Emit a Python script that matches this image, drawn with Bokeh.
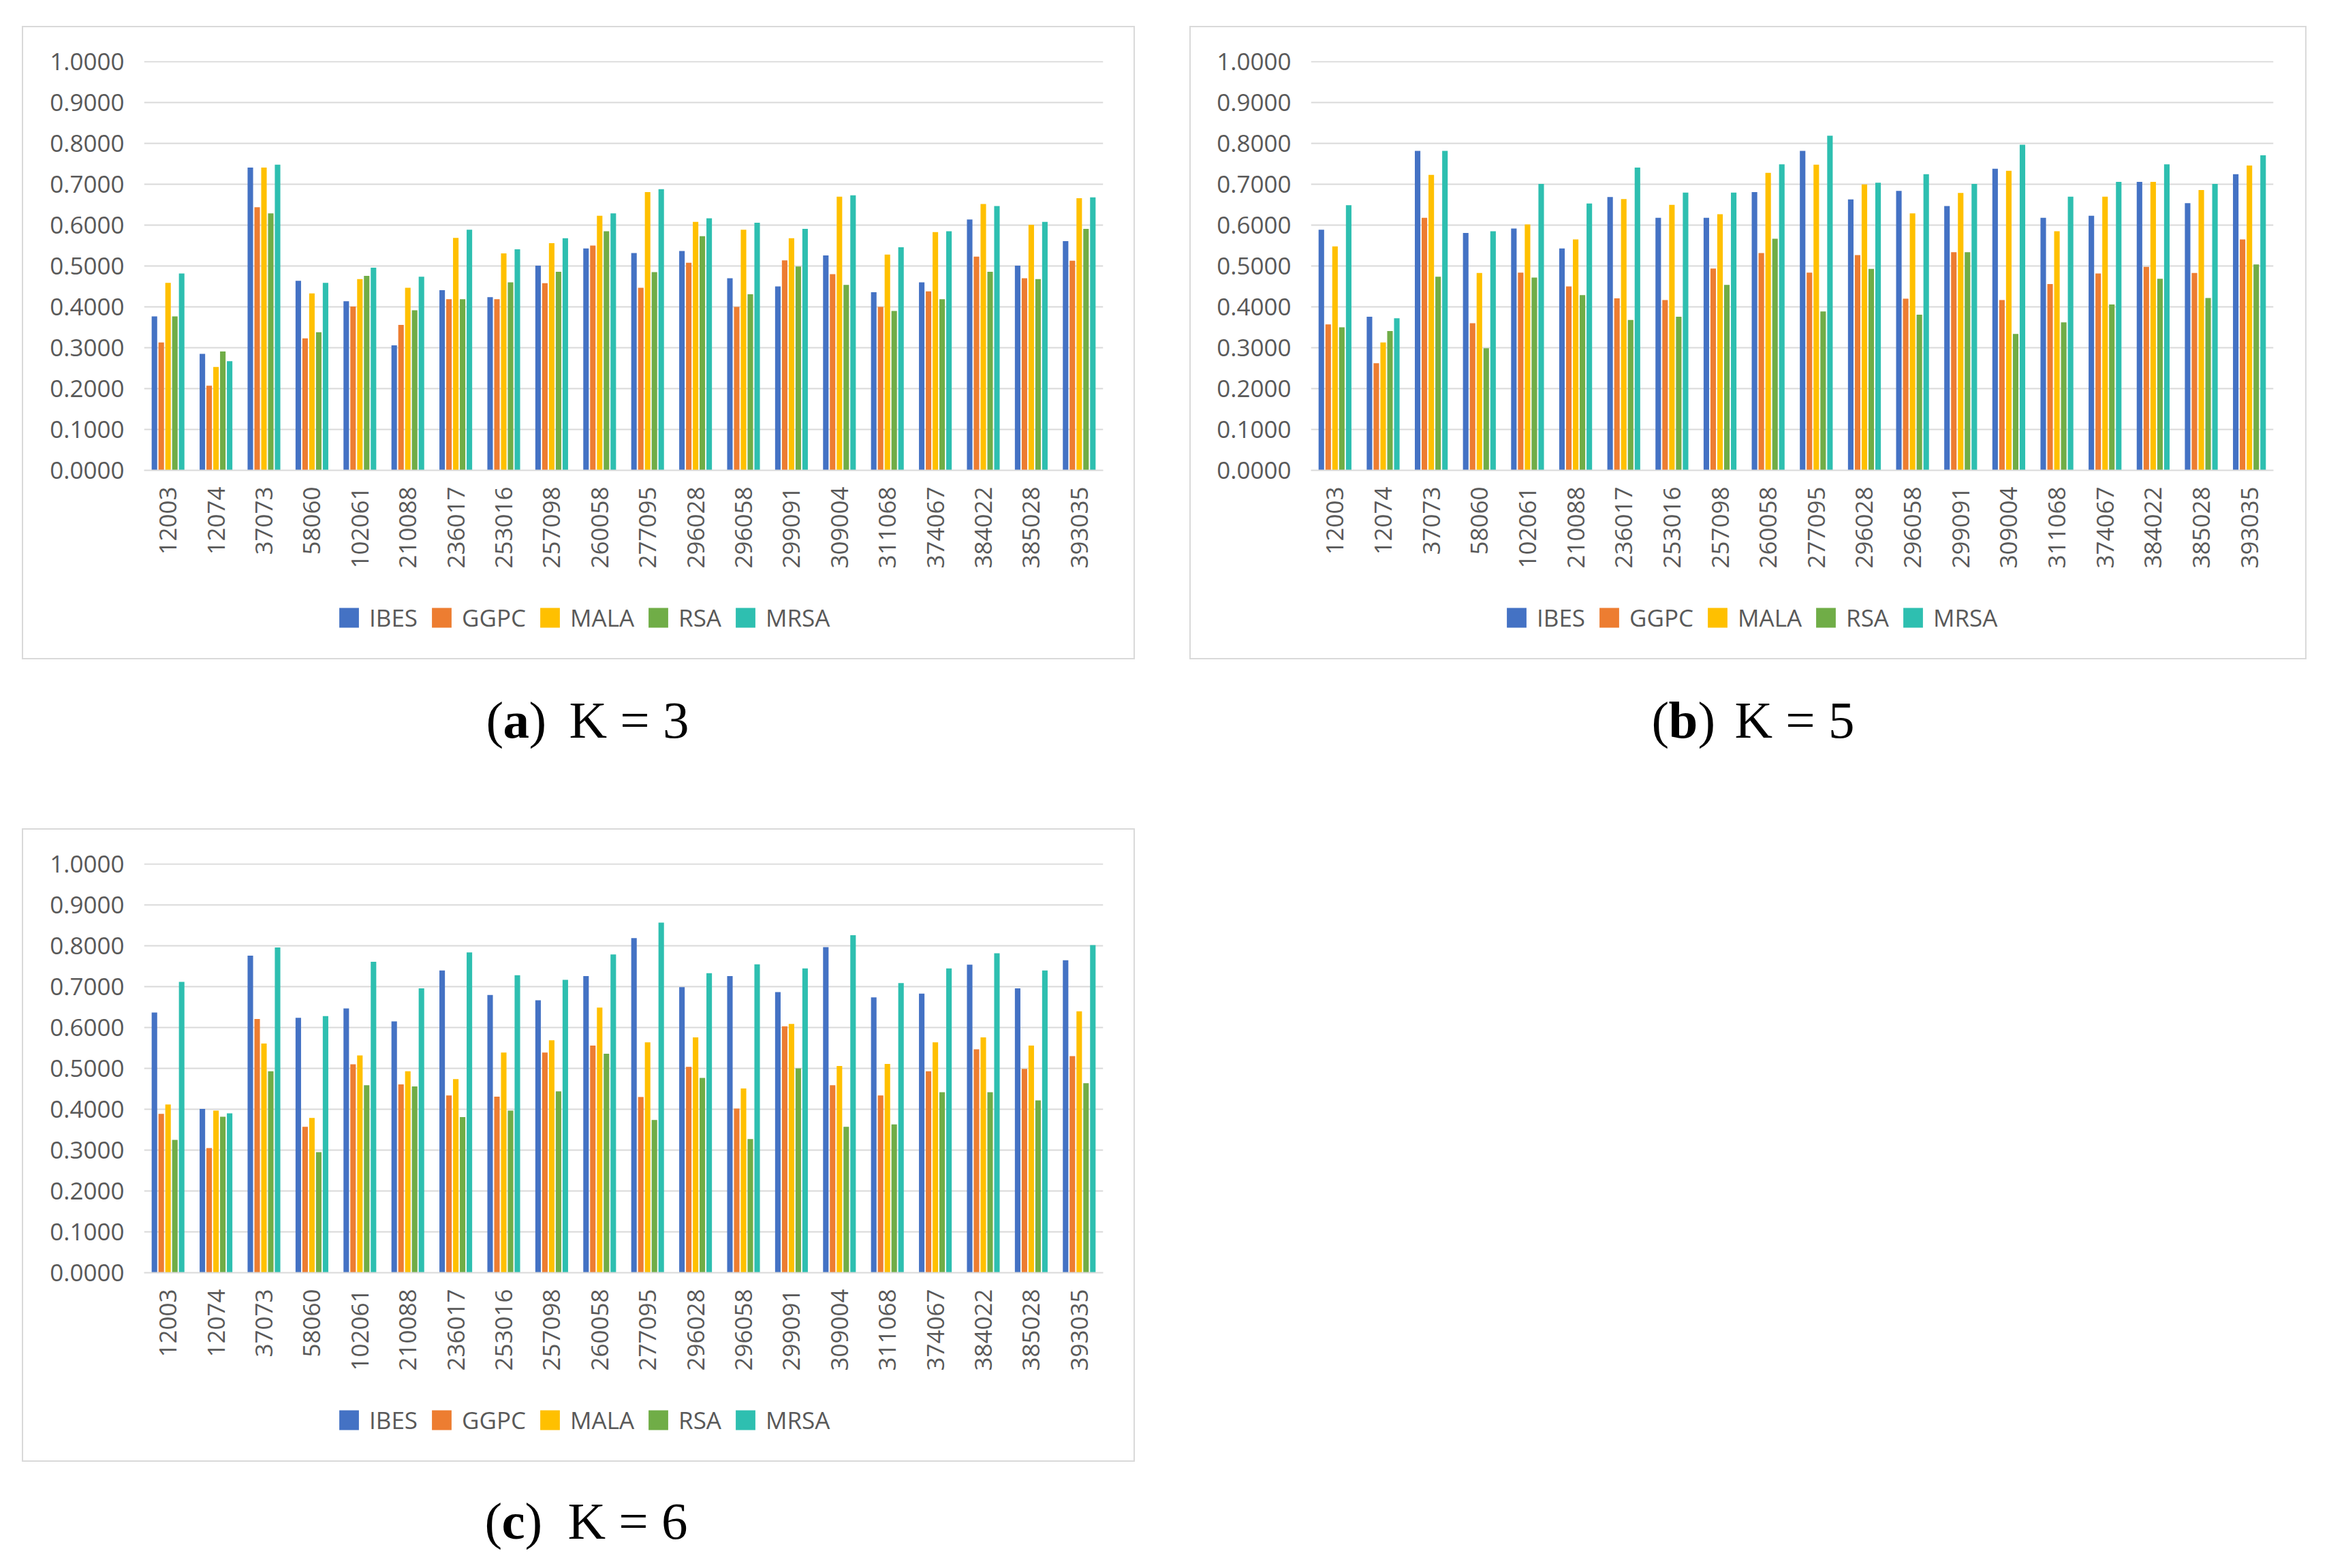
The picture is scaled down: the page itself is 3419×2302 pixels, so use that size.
from bokeh.plotting import figure
from bokeh.models import (ColumnDataSource, FactorRange, Range1d, FixedTicker,
                          NumeralTickFormatter, Label, Spacer, Legend, LegendItem)
from bokeh.layouts import column, row
from bokeh.transform import dodge
from bokeh.embed import file_html
from bokeh.resources import INLINE
import math

# station ids on the x axis
cats = ["12003", "12074", "37073", "58060", "102061", "210088", "236017",
        "253016", "257098", "260058", "277095", "296028", "296058", "299091",
        "309004", "311068", "374067", "384022", "385028", "393035"]

methods = ["IBES", "GGPC", "MALA", "RSA", "MRSA"]
colors = ["#4472C4", "#ED7D31", "#FFC000", "#70AD47", "#2EBFB0"]

# K = 3
ibes_k3 = [0.377, 0.285, 0.741, 0.464, 0.414, 0.306, 0.441, 0.424, 0.501, 0.543,
           0.532, 0.537, 0.470, 0.450, 0.526, 0.436, 0.460, 0.614, 0.501, 0.561]
ggpc_k3 = [0.313, 0.207, 0.644, 0.323, 0.401, 0.356, 0.419, 0.419, 0.458, 0.550,
           0.447, 0.508, 0.400, 0.514, 0.480, 0.400, 0.438, 0.523, 0.470, 0.513]
mala_k3 = [0.459, 0.253, 0.741, 0.433, 0.468, 0.447, 0.569, 0.531, 0.556, 0.623,
           0.681, 0.608, 0.589, 0.568, 0.670, 0.528, 0.583, 0.652, 0.601, 0.666]
rsa_k3 = [0.377, 0.291, 0.629, 0.338, 0.476, 0.392, 0.419, 0.460, 0.486, 0.585,
          0.485, 0.573, 0.431, 0.499, 0.454, 0.390, 0.419, 0.486, 0.468, 0.591]
mrsa_k3 = [0.482, 0.267, 0.748, 0.459, 0.496, 0.474, 0.589, 0.541, 0.568, 0.629,
           0.688, 0.617, 0.606, 0.591, 0.673, 0.546, 0.585, 0.647, 0.608, 0.668]

# K = 5
ibes_k5 = [0.589, 0.376, 0.782, 0.581, 0.592, 0.543, 0.669, 0.618, 0.618, 0.681,
           0.782, 0.663, 0.684, 0.647, 0.738, 0.618, 0.623, 0.706, 0.654, 0.725]
ggpc_k5 = [0.357, 0.262, 0.618, 0.360, 0.484, 0.450, 0.421, 0.417, 0.494, 0.532,
           0.484, 0.527, 0.420, 0.534, 0.417, 0.456, 0.482, 0.498, 0.483, 0.565]
mala_k5 = [0.548, 0.313, 0.723, 0.483, 0.602, 0.565, 0.664, 0.650, 0.627, 0.728,
           0.748, 0.700, 0.629, 0.679, 0.733, 0.585, 0.670, 0.706, 0.686, 0.746]
rsa_k5 = [0.350, 0.341, 0.474, 0.299, 0.472, 0.429, 0.368, 0.376, 0.454, 0.567,
          0.389, 0.493, 0.381, 0.534, 0.334, 0.362, 0.406, 0.469, 0.422, 0.504]
mrsa_k5 = [0.649, 0.372, 0.782, 0.585, 0.701, 0.653, 0.741, 0.680, 0.680, 0.749,
           0.819, 0.704, 0.725, 0.701, 0.797, 0.670, 0.706, 0.749, 0.701, 0.771]

# K = 6
ibes_k6 = [0.637, 0.401, 0.776, 0.624, 0.647, 0.615, 0.740, 0.680, 0.667, 0.726,
           0.819, 0.699, 0.726, 0.687, 0.797, 0.674, 0.683, 0.754, 0.696, 0.765]
ggpc_k6 = [0.389, 0.305, 0.621, 0.357, 0.510, 0.461, 0.434, 0.431, 0.539, 0.556,
           0.430, 0.504, 0.402, 0.603, 0.459, 0.434, 0.493, 0.547, 0.499, 0.530]
mala_k6 = [0.412, 0.397, 0.561, 0.379, 0.532, 0.493, 0.474, 0.539, 0.569, 0.649,
           0.564, 0.576, 0.451, 0.609, 0.506, 0.511, 0.564, 0.576, 0.556, 0.640]
rsa_k6 = [0.325, 0.382, 0.493, 0.295, 0.459, 0.456, 0.381, 0.397, 0.444, 0.536,
          0.374, 0.477, 0.327, 0.500, 0.357, 0.363, 0.442, 0.442, 0.422, 0.464]
mrsa_k6 = [0.712, 0.390, 0.796, 0.628, 0.761, 0.696, 0.784, 0.728, 0.717, 0.779,
           0.857, 0.733, 0.755, 0.745, 0.826, 0.709, 0.745, 0.782, 0.740, 0.802]

y_ticks = [i / 10 for i in range(11)]

TEXT = "#595959"
GRID = "#D9D9D9"
FONT = "Open Sans"
EDGE = "2px solid #D9D9D9"


def make_chart(src, width, left, right):
    p = figure(x_range=FactorRange(factors=cats, range_padding=0),
               y_range=Range1d(0, 1.002),
               width=width, height=806, output_backend="svg", toolbar_location=None,
               min_border_left=left, min_border_right=right,
               min_border_top=49, min_border_bottom=156)
    p.styles = {"border-top": EDGE, "border-left": EDGE, "border-right": EDGE}
    p.outline_line_color = None
    offsets = [-0.284, -0.142, 0.0, 0.142, 0.284]
    for m, c, off in zip(methods, colors, offsets):
        p.vbar(x=dodge("cat", off, range=p.x_range), top=m, width=0.115, source=src,
               color=c, line_color=None)

    p.xgrid.grid_line_color = None
    p.ygrid.grid_line_color = GRID
    p.ygrid.grid_line_width = 2
    p.yaxis.ticker = FixedTicker(ticks=y_ticks)
    p.yaxis.formatter = NumeralTickFormatter(format="0.0000")
    p.yaxis.axis_line_color = None
    p.yaxis.major_tick_line_color = None
    p.yaxis.minor_tick_line_color = None
    p.yaxis.major_tick_out = 0
    p.yaxis.major_label_standoff = 29
    p.xaxis.axis_line_color = GRID
    p.xaxis.axis_line_width = 2
    p.xaxis.major_tick_line_color = None
    p.xaxis.major_tick_out = 0
    p.xaxis.major_label_standoff = 24
    p.xaxis.major_label_orientation = math.pi / 2
    for ax in (p.xaxis, p.yaxis):
        ax.major_label_text_font = FONT
        ax.major_label_text_font_size = "35px"
        ax.major_label_text_color = TEXT
    return p


def make_legend(src, width, shift):
    # legend strip at the bottom of the box; its bars fall outside the visible y range
    f = figure(width=width, height=124, x_range=FactorRange(factors=cats),
               y_range=Range1d(2, 3), output_backend="svg", toolbar_location=None,
               x_axis_location=None, y_axis_location=None, min_border=0)
    f.styles = {"border-bottom": EDGE, "border-left": EDGE, "border-right": EDGE}
    f.grid.visible = False
    f.outline_line_color = None
    items = []
    for m, c in zip(methods, colors):
        r = f.vbar(x="cat", top=m, width=0.1, source=src, color=c, line_color=None)
        items.append(LegendItem(label=m, renderers=[r]))
    lg = Legend(items=items, orientation="horizontal", location="center_left")
    lg.glyph_width = 36
    lg.glyph_height = 36
    lg.label_standoff = 12
    lg.spacing = 17
    lg.padding = 0
    lg.margin = shift
    lg.border_line_color = None
    lg.background_fill_alpha = 0
    lg.label_text_font = FONT
    lg.label_text_font_size = "35px"
    lg.label_text_color = TEXT
    f.add_layout(lg, "center")
    return f


def panel(series, width, left, right, shift):
    src = ColumnDataSource(data=dict(cat=cats, **{m: v for m, v in zip(methods, series)}))
    return column(make_chart(src, width, left, right), make_legend(src, width, shift))


def caption(fig, x0, letter, letter_w, k, base):
    serif = "Liberation Serif"
    size = "77px"
    parts = [(x0, "(", "normal"), (x0 + 25, letter, "bold"),
             (x0 + 25 + letter_w, ")", "normal"), (x0 + 122, "K = " + k, "normal")]
    for x, t, st in parts:
        fig.add_layout(Label(x=x, y=base, x_units="screen", y_units="screen", text=t,
                             text_font=serif, text_font_size=size, text_font_style=st,
                             text_color="black", text_baseline="alphabetic"))


def blank(width, height):
    f = figure(width=width, height=height, x_range=Range1d(0, 1), y_range=Range1d(0, 1),
               output_backend="svg", toolbar_location=None, min_border=0)
    f.axis.visible = False
    f.grid.visible = False
    f.outline_line_color = None
    return f


pa = panel([ibes_k3, ggpc_k3, mala_k3, rsa_k3, mrsa_k3], 1634, 177, 49, 283)
pb = panel([ibes_k5, ggpc_k5, mala_k5, rsa_k5, mrsa_k5], 1640, 176, 51, 284)
pc = panel([ibes_k6, ggpc_k6, mala_k6, rsa_k6, mrsa_k6], 1634, 177, 49, 283)

cap_ab = blank(3403, 248)
caption(cap_ab, 713, "a", 38, "3", 160)
caption(cap_ab, 2424, "b", 43, "5", 160)
cap_c = blank(3403, 146)
caption(cap_c, 711, "c", 34, "6", 60)

layout = column(
    Spacer(width=3403, height=38),
    row(Spacer(width=32, height=930), pa, Spacer(width=80, height=930), pb),
    cap_ab,
    row(Spacer(width=32, height=930), pc),
    cap_c,
)

open("out.html", "w").write(file_html(layout, INLINE))
